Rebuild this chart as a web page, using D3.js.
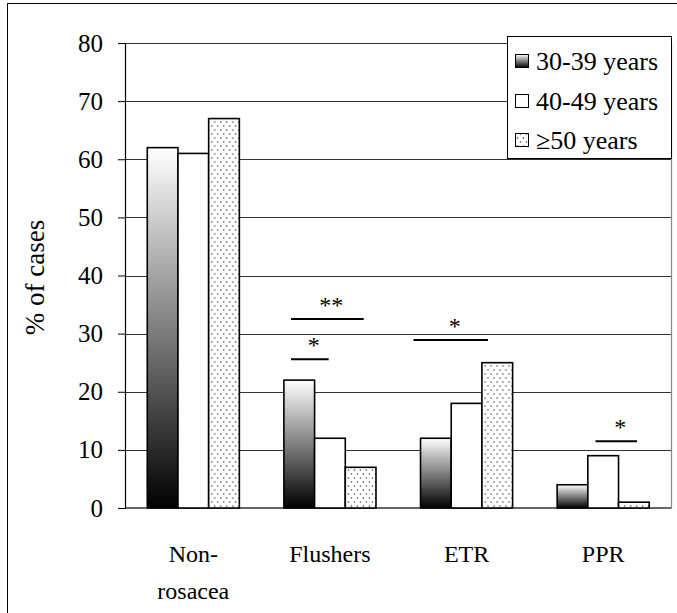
<!DOCTYPE html>
<html>
<head>
<meta charset="utf-8">
<script src="https://cdn.jsdelivr.net/npm/d3@7"></script>
<style>
  html, body { margin: 0; padding: 0; background: #fff; }
  svg { display: block; }
  svg text { font-family: "Liberation Serif", "Tinos", "Times New Roman", "DejaVu Serif", serif !important; fill: #000; }
</style>
</head>
<body>
<svg id="chart" width="677" height="613"></svg>
<script>
// ---- data ----
const categories = ["Non-rosacea", "Flushers", "ETR", "PPR"];
const categoryLines = [["Non-", "rosacea"], ["Flushers"], ["ETR"], ["PPR"]];
const seriesNames = ["30-39 years", "40-49 years", "\u226550 years"];
const values30to39 = [62, 22, 12, 4];
const values40to49 = [61, 12, 18, 9];
const values50plus = [67, 7, 25, 1];
const yTicks = [0, 10, 20, 30, 40, 50, 60, 70, 80];
const yLabel = "% of cases";
// significance bars: category, start/end in bar units inside the group, height (value), label
const sigCats   = ["Flushers", "Flushers", "ETR", "PPR"];
const sigFrom   = [0.23, 0.23, -0.23, 1.25];
const sigTo     = [2.6, 1.46, 2.2, 2.6];
const sigLevel  = [32.5, 25.6, 28.9, 11.5];
const sigLabels = ["**", "*", "*", "*"];

const seriesValues = [values30to39, values40to49, values50plus];

// ---- layout ----
const svg = d3.select("#chart");
const plot = { left: 125, right: 671.5, top: 43, bottom: 508 };
const FONT = "'Liberation Serif', Tinos, 'Times New Roman', 'DejaVu Serif', serif";

const defs = svg.append("defs");
const grad = defs.append("linearGradient").attr("id", "grad30")
  .attr("x1", 0).attr("y1", 0).attr("x2", 0).attr("y2", 1);
grad.append("stop").attr("offset", "0%").attr("stop-color", "#ffffff");
grad.append("stop").attr("offset", "100%").attr("stop-color", "#000000");

const pat = defs.append("pattern").attr("id", "dots50")
  .attr("patternUnits", "userSpaceOnUse").attr("width", 6).attr("height", 8);
pat.append("rect").attr("width", 6).attr("height", 8).attr("fill", "#fff");
pat.append("circle").attr("cx", 1.5).attr("cy", 2).attr("r", 0.75).attr("fill", "#333");
pat.append("circle").attr("cx", 4.5).attr("cy", 6).attr("r", 0.75).attr("fill", "#333");

const fills = ["url(#grad30)", "#ffffff", "url(#dots50)"];

// outer frame
svg.append("rect").attr("x", 7.5).attr("y", 3.5).attr("width", 680).attr("height", 640)
  .attr("fill", "none").attr("stroke", "#000").attr("stroke-width", 1);

const y = d3.scaleLinear().domain([0, 80]).range([plot.bottom, plot.top]);
const x0 = d3.scaleBand().domain(categories).range([plot.left, plot.right])
  .paddingInner(0.326).paddingOuter(0.163);
const x1 = d3.scaleBand().domain(seriesNames).range([0, x0.bandwidth()]);

// gridlines
svg.append("g").selectAll("line").data(yTicks.filter(d => d > 0)).join("line")
  .attr("x1", plot.left).attr("x2", plot.right)
  .attr("y1", d => Math.round(y(d)) + 0.5).attr("y2", d => Math.round(y(d)) + 0.5)
  .attr("stroke", "#333").attr("stroke-width", 1);

// plot right border
svg.append("line").attr("x1", plot.right).attr("x2", plot.right)
  .attr("y1", plot.top).attr("y2", plot.bottom)
  .attr("stroke", "#888").attr("stroke-width", 1.2);

// y axis
const yAxis = d3.axisLeft(y).tickValues(yTicks).tickSize(7).tickPadding(15).tickFormat(d3.format("d"));
const gy = svg.append("g").attr("transform", `translate(${plot.left},0)`).call(yAxis)
  .attr("font-family", FONT).attr("font-size", 25);
gy.select(".domain").attr("stroke", "#000").attr("stroke-width", 1.2);
gy.selectAll(".tick line").attr("stroke", "#000").attr("stroke-width", 1);
gy.selectAll(".tick text").attr("fill", "#000");

// baseline
svg.append("line").attr("x1", plot.left).attr("x2", plot.right)
  .attr("y1", y(0)).attr("y2", y(0)).attr("stroke", "#333").attr("stroke-width", 1.5);

// y label
svg.append("text").attr("transform", `translate(44,${(plot.top + plot.bottom) / 2 + 2}) rotate(-90)`)
  .attr("text-anchor", "middle").attr("font-family", FONT).attr("font-size", 27).text(yLabel);

// bars
const groups = svg.append("g").selectAll("g").data(categories).join("g")
  .attr("transform", d => `translate(${x0(d)},0)`);
groups.selectAll("rect").data((c, ci) => seriesNames.map((s, si) => ({ s, si, v: seriesValues[si][ci] })))
  .join("rect")
  .attr("x", d => x1(d.s)).attr("width", x1.bandwidth())
  .attr("y", d => y(d.v)).attr("height", d => y(0) - y(d.v))
  .attr("fill", d => fills[d.si]).attr("stroke", "#000").attr("stroke-width", 1.6);

// category labels
categories.forEach((c, i) => {
  const cx = x0(c) + x0.bandwidth() / 2;
  const t = svg.append("text").attr("x", cx).attr("y", 562)
    .attr("text-anchor", "middle").attr("font-family", FONT).attr("font-size", 24);
  categoryLines[i].forEach((line, li) => {
    t.append("tspan").attr("x", cx).attr("dy", li === 0 ? 0 : 37).text(line);
  });
});

// significance markers
sigCats.forEach((c, i) => {
  const bw = x1.bandwidth();
  const xa = x0(c) + sigFrom[i] * bw, xb = x0(c) + sigTo[i] * bw;
  const yy = y(sigLevel[i]);
  svg.append("line").attr("x1", xa).attr("x2", xb).attr("y1", yy).attr("y2", yy)
    .attr("stroke", "#000").attr("stroke-width", 2);
  svg.append("text").attr("x", (xa + xb) / 2 + 4).attr("y", yy - 6)
    .attr("text-anchor", "middle").attr("font-family", FONT).attr("font-size", 24).text(sigLabels[i]);
});

// legend
const lg = svg.append("g");
lg.append("rect").attr("x", 507.5).attr("y", 36.5).attr("width", 164).attr("height", 122)
  .attr("fill", "#fff").attr("stroke", "#000").attr("stroke-width", 1);
const rowY = [61, 101, 140];
seriesNames.forEach((s, i) => {
  lg.append("rect").attr("x", 515.5).attr("y", rowY[i] - 6.5).attr("width", 13).attr("height", 13)
    .attr("fill", fills[i]).attr("stroke", "#000").attr("stroke-width", 1);
  lg.append("text").attr("x", 536).attr("y", rowY[i] + 8.5).attr("font-family", FONT)
    .attr("font-size", 26).text(s);
});
</script>
</body>
</html>
